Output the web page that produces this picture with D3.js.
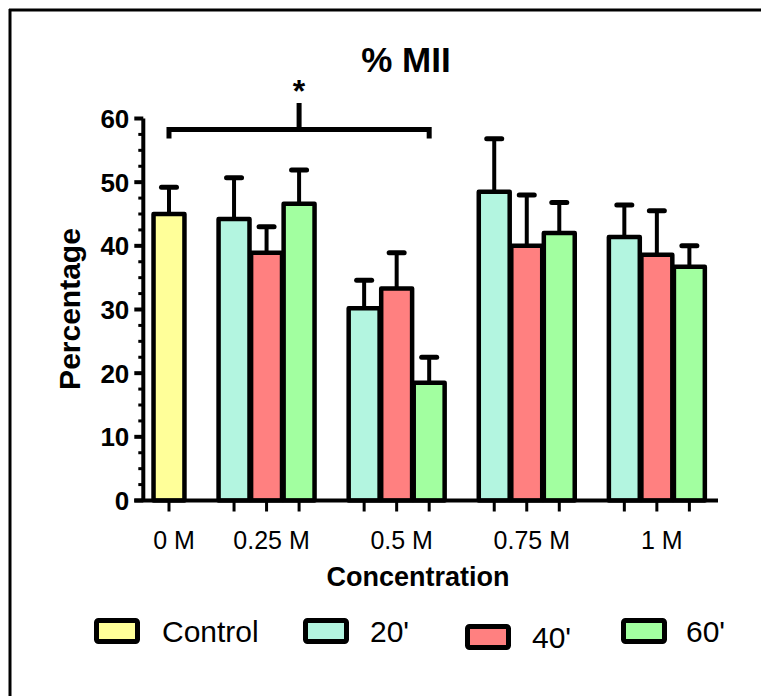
<!DOCTYPE html>
<html>
<head>
<meta charset="utf-8">
<script src="https://cdn.jsdelivr.net/npm/d3@7"></script>
<style>
  html, body { margin: 0; padding: 0; background: #fff; }
  svg { display: block; }
  text { font-family: "Liberation Sans", Arial, Helvetica, sans-serif; fill: #000; }
</style>
</head>
<body>
<svg id="chart" width="761" height="696"></svg>
<script>
// ---- data ----
const categories = ["0 M", "0.25 M", "0.5 M", "0.75 M", "1 M"];
const seriesNames = ["Control", "20'", "40'", "60'"];
const controlMean = [45.0];
const controlErr = [4.2];
const mean20 = [44.2, 30.2, 48.5, 41.4];
const err20 = [6.5, 4.4, 8.3, 5.0];
const mean40 = [38.9, 33.3, 40.0, 38.6];
const err40 = [4.1, 5.6, 8.0, 6.9];
const mean60 = [46.6, 18.5, 42.0, 36.7];
const err60 = [5.3, 4.0, 4.8, 3.3];
const yTicks = [0, 10, 20, 30, 40, 50, 60];
const titleText = "% MII";
const yTitle = "Percentage";
const xTitle = "Concentration";
const sigLabel = "*";

// ---- styles ----
const colors = { "Control": "#FFFF99", "20'": "#B3F5E0", "40'": "#FF8080", "60'": "#A2FFA0" };

const svg = d3.select("#chart");

// frame (top & left border lines)
svg.append("line").attr("x1", 9).attr("x2", 761).attr("y1", 10).attr("y2", 10).attr("stroke", "#000").attr("stroke-width", 3);
svg.append("line").attr("x1", 10).attr("x2", 10).attr("y1", 9).attr("y2", 696).attr("stroke", "#000").attr("stroke-width", 3);

// scales: x in "slot" units
const x = d3.scaleLinear().domain([-0.79, 16.88]).range([143.3, 718]);
const slotW = x(1) - x(0);
const y = d3.scaleLinear().domain([0, 60]).range([500.5, 118.5]);

// build bar records
const bars = [];
bars.push({ series: "Control", cat: 0, slot: 0, v: controlMean[0], e: controlErr[0] });
const grouped = [["20'", mean20, err20], ["40'", mean40, err40], ["60'", mean60, err60]];
for (let c = 1; c < categories.length; c++) {
  grouped.forEach(([name, m, e], j) => {
    bars.push({ series: name, cat: c, slot: 2 + 4 * (c - 1) + j, v: m[c - 1], e: e[c - 1] });
  });
}

// error bars (upward only) first, behind bars
const eb = svg.append("g");
bars.forEach(b => {
  const cx = x(b.slot);
  eb.append("line").attr("x1", cx).attr("x2", cx).attr("y1", y(b.v)).attr("y2", y(b.v + b.e))
    .attr("stroke", "#000").attr("stroke-width", 4);
  eb.append("line").attr("x1", cx - 7.5).attr("x2", cx + 7.5).attr("y1", y(b.v + b.e)).attr("y2", y(b.v + b.e))
    .attr("stroke", "#000").attr("stroke-width", 5).attr("stroke-linecap", "round");
});

// bars
svg.append("g").selectAll("rect").data(bars).join("rect")
  .attr("x", d => x(d.slot) - slotW / 2 + 0.8)
  .attr("width", slotW - 1.6)
  .attr("y", d => y(d.v))
  .attr("height", d => y(0) - y(d.v))
  .attr("fill", d => colors[d.series])
  .attr("stroke", "#000")
  .attr("stroke-width", 4.5)
  .attr("stroke-linejoin", "round");

// y axis
const yAxisG = svg.append("g");
yAxisG.append("line").attr("x1", x(-0.79)).attr("x2", x(-0.79)).attr("y1", y(60)).attr("y2", y(0))
  .attr("stroke", "#000").attr("stroke-width", 4);
const minor = d3.range(0, 60.01, 2.5);
minor.forEach(v => {
  const major = yTicks.includes(v);
  yAxisG.append("line").attr("x1", x(-0.79) - (major ? 9 : 5)).attr("x2", x(-0.79))
    .attr("y1", y(v)).attr("y2", y(v)).attr("stroke", "#000").attr("stroke-width", major ? 4 : 3);
});
yAxisG.selectAll("text").data(yTicks).join("text")
  .attr("x", x(-0.79) - 14).attr("y", d => y(d) + 9.5)
  .attr("text-anchor", "end").attr("font-size", 26).attr("font-weight", "bold")
  .text(d => d);

// x axis
const xAxisG = svg.append("g");
xAxisG.append("line").attr("x1", x(-0.79) - 9).attr("x2", x(16.88)).attr("y1", y(0)).attr("y2", y(0))
  .attr("stroke", "#000").attr("stroke-width", 4);
bars.forEach(b => {
  xAxisG.append("line").attr("x1", x(b.slot)).attr("x2", x(b.slot)).attr("y1", y(0)).attr("y2", y(0) + 11)
    .attr("stroke", "#000").attr("stroke-width", 3);
});
const catCenters = categories.map((c, i) => i === 0 ? 0 : 2 + 4 * (i - 1) + 1);
xAxisG.selectAll("text").data(categories).join("text")
  .attr("x", (d, i) => x(catCenters[i]) + 5)
  .attr("y", 549)
  .attr("text-anchor", "middle").attr("font-size", 25)
  .text(d => d);

// axis titles
svg.append("text").attr("x", 418).attr("y", 586).attr("text-anchor", "middle")
  .attr("font-size", 27).attr("font-weight", "bold").text(xTitle);
svg.append("text").attr("transform", "translate(80,309) rotate(-90)").attr("text-anchor", "middle")
  .attr("font-size", 30).attr("font-weight", "bold").text(yTitle);

// title
svg.append("text").attr("x", 406).attr("y", 72).attr("text-anchor", "middle")
  .attr("font-size", 35).attr("font-weight", "bold").text(titleText);

// significance bracket: control (slot 0) to 0.5 M 60' (slot 8)
const br = svg.append("g").attr("stroke", "#000").attr("stroke-width", 5).attr("fill", "none");
const bY = 129.5;
br.append("path").attr("d", `M${x(0)},${bY + 9} L${x(0)},${bY} L${x(8)},${bY} L${x(8)},${bY + 9}`)
  .attr("stroke-linejoin", "miter");
br.append("line").attr("x1", x(4)).attr("x2", x(4)).attr("y1", bY).attr("y2", 103);
svg.append("text").attr("x", x(4)).attr("y", 102).attr("text-anchor", "middle")
  .attr("font-size", 32).attr("font-weight", "bold").text(sigLabel);

// legend
const legendItems = [
  { name: "Control", bx: 94, tx: 162, dy: 0 },
  { name: "20'", bx: 303, tx: 370, dy: 0 },
  { name: "40'", bx: 465, tx: 532, dy: 6 },
  { name: "60'", bx: 621, tx: 686, dy: 0 }
];
const lg = svg.append("g");
legendItems.forEach(it => {
  lg.append("rect").attr("x", it.bx + 2.5).attr("y", 620.5 + it.dy).attr("width", 41).attr("height", 21)
    .attr("rx", 2).attr("fill", colors[it.name]).attr("stroke", "#000").attr("stroke-width", 5);
  lg.append("text").attr("x", it.tx).attr("y", 641.5 + it.dy).attr("font-size", 30).text(seriesNames[seriesNames.indexOf(it.name)]);
});
</script>
</body>
</html>
